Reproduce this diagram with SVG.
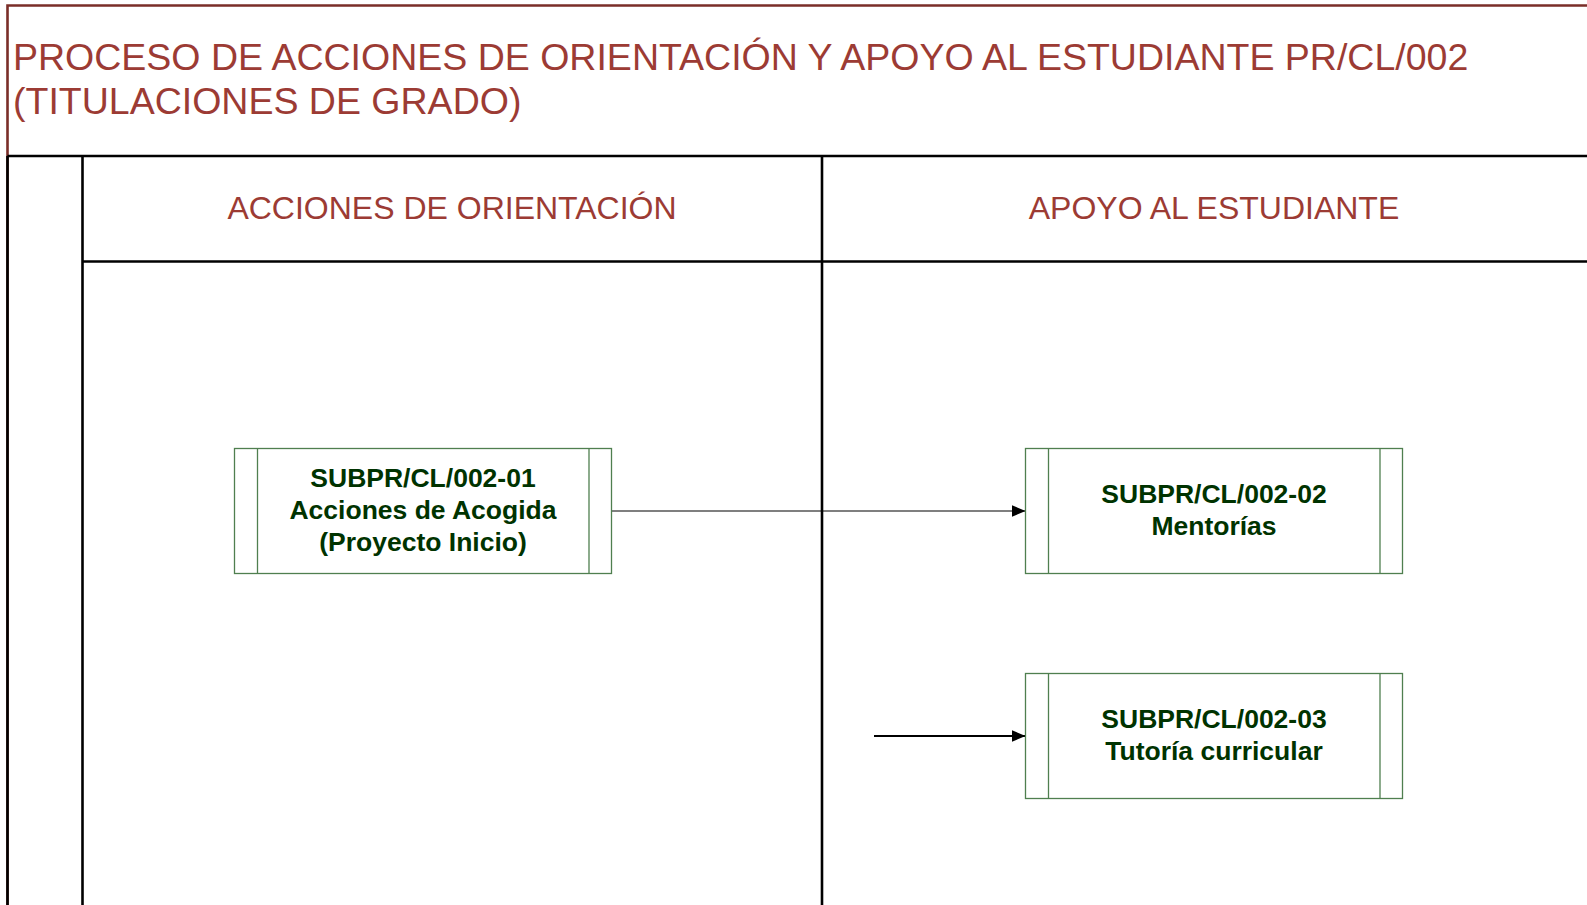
<svg xmlns="http://www.w3.org/2000/svg" width="1587" height="905" viewBox="0 0 1587 905">
<defs>
<style>
.title{font-family:"Liberation Sans",Arial,sans-serif;font-size:37.5px;fill:#9c3b34}
.lane{font-family:"Liberation Sans",Arial,sans-serif;font-size:32px;fill:#9c3b34;text-anchor:middle}
.nt{font-family:"Liberation Sans",Arial,sans-serif;font-size:26.5px;font-weight:bold;fill:#003300;text-anchor:middle}
.box{fill:#fff;stroke:#4f7f4f;stroke-width:1.3}
.blk{stroke:#000;stroke-width:2.6;fill:none}
.brn{stroke:#7a2e28;stroke-width:2.6;fill:none}
.conn{stroke:#000;fill:none}
</style>
<marker id="arr" viewBox="0 0 14 12" refX="14" refY="6" markerWidth="14" markerHeight="12" markerUnits="userSpaceOnUse" orient="auto">
<path d="M0,0 L14,6 L0,12 Z" fill="#000"/>
</marker>
</defs>
<rect width="1587" height="905" fill="#fff"/>
<g id="frame">
<path class="brn" d="M7.5,905 V5.5 H1587"/>
<path class="blk" d="M7.5,156 V905"/>
<path class="blk" d="M7.5,156 H1587"/>
<path class="blk" d="M82.5,156 V905"/>
<path class="blk" d="M822,156 V905"/>
<path class="blk" d="M82.5,261.5 H1587"/>
</g>
<g id="title">
<text class="title" x="13" y="70">PROCESO DE ACCIONES DE ORIENTACIÓN Y APOYO AL ESTUDIANTE PR/CL/002</text>
<text class="title" x="13" y="114">(TITULACIONES DE GRADO)</text>
</g>
<g id="lane1"><text class="lane" x="452" y="219">ACCIONES DE ORIENTACIÓN</text></g>
<g id="lane2"><text class="lane" x="1214" y="219">APOYO AL ESTUDIANTE</text></g>
<g id="connectors">
<line class="conn" stroke-width="1.2" x1="611.5" y1="511" x2="1025.5" y2="511" marker-end="url(#arr)"/>
<line class="conn" stroke-width="1.8" x1="874" y1="736" x2="1025.5" y2="736" marker-end="url(#arr)"/>
</g>
<g id="node1">
<rect class="box" x="234.5" y="448.5" width="377" height="125"/>
<line class="box" x1="257.5" y1="448.5" x2="257.5" y2="573.5"/>
<line class="box" x1="589" y1="448.5" x2="589" y2="573.5"/>
<text class="nt" x="423" y="487">SUBPR/CL/002-01</text>
<text class="nt" x="423" y="519">Acciones de Acogida</text>
<text class="nt" x="423" y="551">(Proyecto Inicio)</text>
</g>
<g id="node2">
<rect class="box" x="1025.5" y="448.5" width="377" height="125"/>
<line class="box" x1="1048.5" y1="448.5" x2="1048.5" y2="573.5"/>
<line class="box" x1="1380" y1="448.5" x2="1380" y2="573.5"/>
<text class="nt" x="1214" y="503">SUBPR/CL/002-02</text>
<text class="nt" x="1214" y="535">Mentorías</text>
</g>
<g id="node3">
<rect class="box" x="1025.5" y="673.5" width="377" height="125"/>
<line class="box" x1="1048.5" y1="673.5" x2="1048.5" y2="798.5"/>
<line class="box" x1="1380" y1="673.5" x2="1380" y2="798.5"/>
<text class="nt" x="1214" y="728">SUBPR/CL/002-03</text>
<text class="nt" x="1214" y="760">Tutoría curricular</text>
</g>
</svg>
